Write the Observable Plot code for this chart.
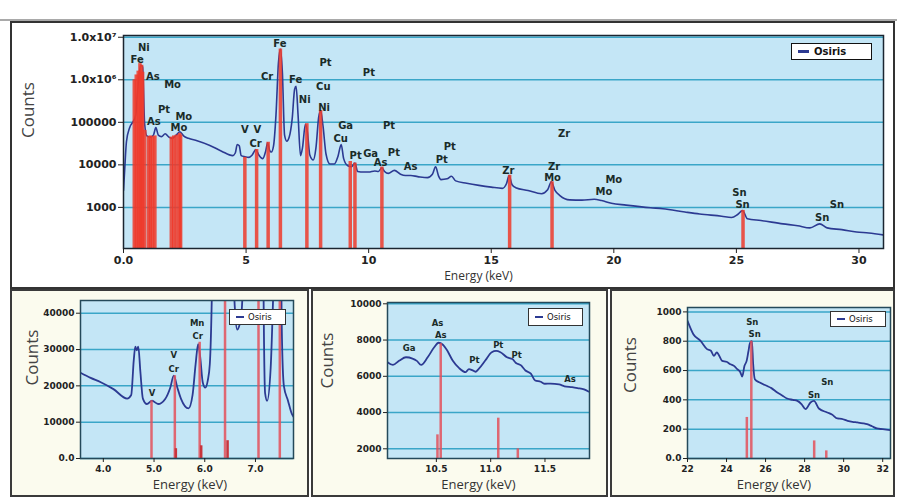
<!DOCTYPE html>
<html><head><meta charset="utf-8">
<script src="https://cdn.jsdelivr.net/npm/d3@7"></script>
<script src="https://cdn.jsdelivr.net/npm/@observablehq/plot@0.6"></script>
<style>
html,body{margin:0;padding:0;background:#fff;}
#root{position:relative;width:897px;height:502px;overflow:hidden;background:#fff;font-family:"DejaVu Sans",sans-serif;}
.box{position:absolute;box-sizing:border-box;}
.layer{position:absolute;left:0;top:0;width:897px;height:502px;}
.layer svg{position:absolute;left:0;top:0;}
svg [aria-label$="tick label"]{font-weight:bold;}
.legend{position:absolute;box-sizing:border-box;background:#fff;display:flex;align-items:center;color:#111;}
.sw{display:inline-block;background:#2c3a92;}
</style>
</head><body>
<div id="root">
  <div class="box" style="left:0;top:19px;width:897px;height:2px;background:#a9a9a9"></div>
  <div class="box" style="left:10px;top:21px;width:885px;height:268px;border:2px solid #333;background:#fff"></div>
  <div class="box" style="left:10px;top:289px;width:299px;height:208px;border:2px solid #3a3a3a;background:#fbfbee"></div>
  <div class="box" style="left:311px;top:289px;width:297px;height:208px;border:2px solid #3a3a3a;background:#fbfbee"></div>
  <div class="box" style="left:610px;top:289px;width:285px;height:208px;border:2px solid #3a3a3a;background:#fbfbee"></div>
  <div class="layer" id="layer"></div>
  <div class="legend" style="left:791px;top:43px;width:81px;height:17px;border:1.5px solid #111;">
    <span class="sw" style="width:11px;height:3px;margin:0 5px 0 6px"></span><span style="font-weight:bold;font-size:10px">Osiris</span></div>
  <div class="legend" style="left:229px;top:309px;width:57px;height:16px;border:1px solid #333;">
    <span class="sw" style="width:8px;height:2px;margin:0 4px 0 6px"></span><span style="font-size:8.5px">Osiris</span></div>
  <div class="legend" style="left:528px;top:308px;width:55px;height:18px;border:1px solid #333;">
    <span class="sw" style="width:8px;height:2px;margin:0 4px 0 6px"></span><span style="font-size:8.5px">Osiris</span></div>
  <div class="legend" style="left:830px;top:311px;width:56px;height:16px;border:1px solid #333;">
    <span class="sw" style="width:8px;height:2px;margin:0 4px 0 6px"></span><span style="font-size:8.5px">Osiris</span></div>
</div>
<script>
// ---------- Top panel: full spectrum (log scale) ----------
const topE = [0.00,0.05,0.12,0.25,0.40,0.50,0.60,0.70,0.78,0.86,0.95,1.10,1.22,1.32,1.42,1.55,1.70,1.85,1.98,2.15,2.30,2.45,2.65,3.00,3.50,4.00,4.45,4.56,4.64,4.72,4.80,4.95,5.12,5.25,5.40,5.52,5.68,5.80,5.88,5.96,6.03,6.12,6.22,6.32,6.40,6.48,6.57,6.66,6.76,6.88,6.98,7.04,7.12,7.22,7.30,7.42,7.50,7.60,7.74,7.85,7.96,8.04,8.14,8.26,8.42,8.60,8.75,8.88,8.98,9.15,9.30,9.44,9.55,9.80,10.00,10.25,10.40,10.54,10.65,10.80,11.05,11.30,11.50,11.72,12.00,12.40,12.60,12.73,12.85,12.95,13.20,13.38,13.55,14.00,14.50,15.00,15.45,15.62,15.73,15.85,16.00,16.50,17.05,17.30,17.45,17.60,17.80,18.20,18.70,19.20,19.50,19.90,20.50,21.50,22.00,22.90,23.50,24.40,24.80,25.05,25.25,25.45,26.00,26.90,27.50,28.00,28.40,28.70,29.30,29.90,30.40,31.00];
const topC = [2500,8000,35000,75000,105000,150000,800000,2200000,2000000,95000,48000,45000,50000,75000,50000,46000,54000,45000,42000,50000,60000,48000,42000,37000,29000,21000,16500,19000,30000,28000,16500,15500,15000,17000,23000,17000,14000,21000,33000,22000,20000,28000,150000,2500000,5300000,1500000,50000,36000,45000,120000,600000,700000,150000,16500,25000,90000,60000,17000,13000,25000,130000,190000,80000,18000,10500,10500,16000,30000,14000,9500,9000,11000,7000,6800,6800,7200,7000,8500,7000,6300,7400,6000,5600,5600,5300,5000,6000,9000,5500,4500,4700,5400,4200,3700,3300,3000,2800,3600,5600,3400,2900,2500,2100,2600,4000,2500,1900,1500,1480,1550,1450,1250,1130,980,930,780,700,620,580,680,840,540,490,410,370,330,410,330,300,265,250,225];
const topBarE = [0.44,0.52,0.60,0.67,0.74,0.78,0.87,1.03,1.10,1.19,1.28,1.95,2.05,2.16,2.29,2.33,4.95,5.43,5.90,6.40,7.48,8.04,9.25,9.44,10.54,15.75,17.48,25.27];
const topBarC = [1000000,1300000,1600000,2400000,2200000,1500000,65000,46000,48000,46000,48000,45000,48000,50000,55000,50000,15000,23000,34000,5300000,93000,190000,12000,11000,8900,5700,4000,850];
const topLabelText = ["Ni","Fe","As","Mo","Pt","Mo","As","Mo","V","V","Cr","Cr","Fe","Fe","Pt","Cu","Ni","Ni","Pt","Ga","Pt","Cu","Pt","Ga","Pt","As","As","Pt","Pt","Zr","Zr","Zr","Mo","Mo","Mo","Sn","Sn","Sn","Sn"];
const topLabelE = [0.83,0.56,1.20,2.00,1.65,2.46,1.24,2.26,4.95,5.46,5.39,5.86,6.38,7.02,8.24,8.15,7.39,8.18,10.01,9.06,10.83,8.86,9.47,10.08,11.03,10.49,11.71,12.98,13.31,15.70,17.97,17.56,17.50,20.00,19.60,25.12,25.25,29.10,28.50];
const topLabelC = [5.7e6,3.0e6,1.2e6,7.8e5,2.0e5,1.38e5,1.02e5,7.6e4,6.5e4,6.5e4,3.2e4,1.17e6,7.1e6,9.8e5,2.5e6,6.8e5,3.4e5,2.2e5,1.45e6,8.1e4,8.1e4,4.2e4,1.67e4,1.84e4,1.9e4,1.1e4,8.9e3,1.3e4,2.6e4,7.1e3,5.4e4,8.9e3,5.0e3,4.5e3,2.3e3,2.2e3,1.17e3,1.12e3,570];
const topTicksX = [0,5,10,15,20,25,30];
const topTickLabelsX = ["0.0","5","10","15","20","25","30"];
const topTicksY = [1e3,1e4,1e5,1e6,1e7];
const topTickLabelsY = ["1000","10000","100000","1.0x10\u2076","1.0x10\u2077"];

// ---------- Panel 1: 3.5 - 7.8 keV ----------
const p1E = [3.55,3.75,3.95,4.20,4.47,4.55,4.60,4.63,4.66,4.69,4.73,4.78,4.86,4.96,5.08,5.22,5.32,5.39,5.46,5.53,5.68,5.76,5.82,5.87,5.91,5.96,6.01,6.06,6.10,6.14,6.22,6.32,6.40,6.48,6.55,6.60,6.64,6.68,6.72,6.76,6.88,6.98,7.04,7.12,7.16,7.19,7.23,7.30,7.35,7.42,7.48,7.52,7.56,7.64,7.72,7.75];
const p1C = [23600,22200,21000,19100,16500,17500,27000,30800,29800,30800,24000,16500,15000,15900,15000,16400,19500,22800,19500,16500,13800,17500,26000,31500,28000,21000,19500,21500,26000,45000,150000,2500000,5300000,1500000,60000,40000,35500,36500,39000,50000,120000,600000,700000,150000,45000,18000,15900,25000,45000,80000,90000,35000,20000,16000,12200,11500];
const p1BarE = [4.95,5.41,5.90,6.40,7.06,7.48];
const p1BarC = [15900,22800,32000,5300000,700000,90000];
const p1SubE = [5.43,5.93,6.45];
const p1SubC = [2700,3500,4900];
const p1LabelText = ["Mn","Cr","V","Cr","V"];
const p1LabelE = [5.85,5.86,5.39,5.39,4.96];
const p1LabelC = [37350,33650,28330,24660,18040];
const p1TicksX = [4,5,6,7];
const p1TicksY = [0,10000,20000,30000,40000];

// ---------- Panel 2: 10 - 12 keV ----------
const p2E = [10.05,10.10,10.16,10.22,10.28,10.32,10.36,10.42,10.48,10.52,10.56,10.60,10.65,10.71,10.77,10.80,10.83,10.86,10.89,10.95,11.01,11.05,11.09,11.15,11.20,11.23,11.28,11.32,11.37,11.41,11.46,11.50,11.55,11.63,11.68,11.75,11.80,11.86,11.90];
const p2C = [6780,6630,6870,7050,6980,6850,6630,7050,7600,7850,7740,7420,6870,6450,6230,6400,6340,6250,6410,6870,7330,7400,7330,7050,6950,6750,6600,6320,6150,5770,5700,5590,5600,5550,5450,5400,5350,5280,5160];
const p2BarE = [10.51,10.54,11.07,11.25];
const p2BarC = [2770,7800,3690,2000];
const p2LabelText = ["Ga","As","As","Pt","Pt","Pt","As"];
const p2LabelE = [10.25,10.51,10.54,10.85,11.07,11.24,11.73];
const p2LabelC = [7550,8950,8250,6870,7700,7150,5860];
const p2TicksX = [10.5,11.0,11.5];
const p2TicksY = [2000,4000,6000,8000,10000];

// ---------- Panel 3: 22 - 32 keV ----------
const p3E = [22.0,22.3,22.67,23.0,23.2,23.35,23.5,23.78,24.0,24.2,24.4,24.55,24.7,24.8,24.92,25.03,25.12,25.2,25.3,25.36,25.45,25.7,26.05,26.3,26.6,26.85,27.1,27.4,27.63,27.85,28.05,28.3,28.48,28.73,29.16,29.4,29.68,29.9,30.2,30.45,30.7,31.0,31.2,31.45,31.7,32.0,32.4];
const p3C = [939,848,802,746,735,700,723,666,660,643,630,609,590,559,632,666,730,787,800,653,541,518,496,480,450,430,409,400,393,370,337,382,393,341,314,300,273,270,257,250,246,240,234,220,205,200,193];
const p3BarE = [25.04,25.27,28.49,29.11];
const p3BarC = [280,800,120,52];
const p3LabelText = ["Sn","Sn","Sn","Sn"];
const p3LabelE = [25.32,25.44,29.16,28.48];
const p3LabelC = [927,848,518,432];
const p3TicksX = [22,24,26,28,30,32];
const p3TicksY = [0,200,400,600,800,1000];

// ---------- styles ----------
const W = 897, H = 502;
const BG = "#c4e6f6", GRID = "#3aa6c8", LINE = "#2c3a92";
const idx = a => d3.range(a.length);
const layer = document.getElementById("layer");

function panel(cfg) {
  const yMin = cfg.yDomain[0];
  const marks = [
    Plot.frame({fill: BG}),
    Plot.ruleY(cfg.gridY, {stroke: GRID, strokeWidth: 1.5}),
    Plot.line(idx(cfg.E), {x: i => cfg.E[i], y: i => cfg.C[i], stroke: LINE, strokeWidth: cfg.lineW, curve: "monotone-x", clip: true}),
    Plot.ruleX(idx(cfg.barE), {x: i => cfg.barE[i], y1: () => yMin, y2: i => cfg.barC[i], stroke: cfg.barColor, strokeWidth: cfg.barW, strokeOpacity: 0.85, clip: true})
  ];
  if (cfg.subE) marks.push(Plot.ruleX(idx(cfg.subE), {x: i => cfg.subE[i], y1: () => yMin, y2: i => cfg.subC[i], stroke: "#c8343c", strokeWidth: cfg.barW, clip: true}));
  marks.push(
    Plot.text(idx(cfg.labText), {x: i => cfg.labE[i], y: i => cfg.labC[i], text: i => cfg.labText[i], fontWeight: "bold", fontSize: cfg.labSize, fill: "#1a2b28", fontFamily: "DejaVu Sans"}),
    Plot.frame({stroke: cfg.frameColor, strokeWidth: 1.5}),
    Plot.axisX({ticks: cfg.ticksX, tickFormat: cfg.fmtX, tickSize: cfg.tickSize, tickPadding: 3, fontWeight: "bold", label: null}),
    Plot.axisY({ticks: cfg.ticksY, tickFormat: cfg.fmtY, tickSize: cfg.tickSize, tickPadding: 2, fontWeight: "bold", label: null}),
    Plot.text(["Counts"], {text: d => d, frameAnchor: "left", dx: cfg.cdx, dy: cfg.cdy, rotate: -90, fontSize: 17, fontFamily: "Open Sans", fill: "#444"}),
    Plot.text(["Energy (keV)"], {text: d => d, frameAnchor: "bottom", dx: cfg.edx, dy: cfg.edy, fontSize: cfg.eSize, fontFamily: "Open Sans", fill: "#333"})
  );
  const p = Plot.plot({
    width: W, height: H,
    marginLeft: cfg.L, marginRight: W - cfg.R, marginTop: cfg.T, marginBottom: H - cfg.B,
    style: {background: "transparent", fontFamily: "DejaVu Sans", fontSize: cfg.tickFont, color: "#222", overflow: "visible"},
    x: {domain: cfg.xDomain},
    y: cfg.yType ? {type: cfg.yType, domain: cfg.yDomain} : {domain: cfg.yDomain},
    marks
  });
  layer.appendChild(p);
}

panel({
  L: 123, R: 883, T: 35, B: 248, xDomain: [0, 31], yDomain: [108, 1.1e7], yType: "log",
  E: topE, C: topC, barE: topBarE, barC: topBarC, barColor: "#ee3a2a", barW: 3.5, lineW: 1.6,
  labText: topLabelText, labE: topLabelE, labC: topLabelC, labSize: 10,
  gridY: topTicksY, ticksX: topTicksX, ticksY: topTicksY,
  fmtX: d => topTickLabelsX[topTicksX.indexOf(d)], fmtY: d => topTickLabelsY[topTicksY.indexOf(d)],
  tickSize: 5, tickFont: "11px", frameColor: "#1b2530",
  cdx: -95, cdy: -4, edx: -25, edy: 31, eSize: 12
});
panel({
  L: 80, R: 293, T: 300, B: 458, xDomain: [3.55, 7.75], yDomain: [0, 43500],
  E: p1E, C: p1C, barE: p1BarE, barC: p1BarC, subE: p1SubE, subC: p1SubC, barColor: "#e4505a", barW: 2.5, lineW: 1.8,
  labText: p1LabelText, labE: p1LabelE, labC: p1LabelC, labSize: 8.5,
  gridY: p1TicksY, ticksX: p1TicksX, ticksY: p1TicksY,
  fmtX: d => d.toFixed(1), fmtY: d => d === 0 ? "0.0" : String(d),
  tickSize: 4, tickFont: "9px", frameColor: "#24495a",
  cdx: -48, cdy: 6, edx: 3, edy: 30, eSize: 13
});
panel({
  L: 387, R: 589, T: 302, B: 458, xDomain: [10.05, 11.91], yDomain: [1465, 10072],
  E: p2E, C: p2C, barE: p2BarE, barC: p2BarC, barColor: "#e4505a", barW: 2.5, lineW: 1.8,
  labText: p2LabelText, labE: p2LabelE, labC: p2LabelC, labSize: 8.5,
  gridY: p2TicksY, ticksX: p2TicksX, ticksY: p2TicksY,
  fmtX: d => d.toFixed(1), fmtY: d => String(d),
  tickSize: 4, tickFont: "9px", frameColor: "#24495a",
  cdx: -60, cdy: 8, edx: -10, edy: 30, eSize: 13
});
panel({
  L: 687, R: 890, T: 307, B: 458, xDomain: [22, 32.4], yDomain: [0, 1030],
  E: p3E, C: p3C, barE: p3BarE, barC: p3BarC, barColor: "#e4505a", barW: 2.5, lineW: 1.8,
  labText: p3LabelText, labE: p3LabelE, labC: p3LabelC, labSize: 8.5,
  gridY: p3TicksY, ticksX: p3TicksX, ticksY: p3TicksY,
  fmtX: d => String(d), fmtY: d => d === 0 ? "0.0" : String(d),
  tickSize: 4, tickFont: "9px", frameColor: "#24495a",
  cdx: -57, cdy: 10, edx: -15, edy: 30, eSize: 13
});
</script>
</body></html>
